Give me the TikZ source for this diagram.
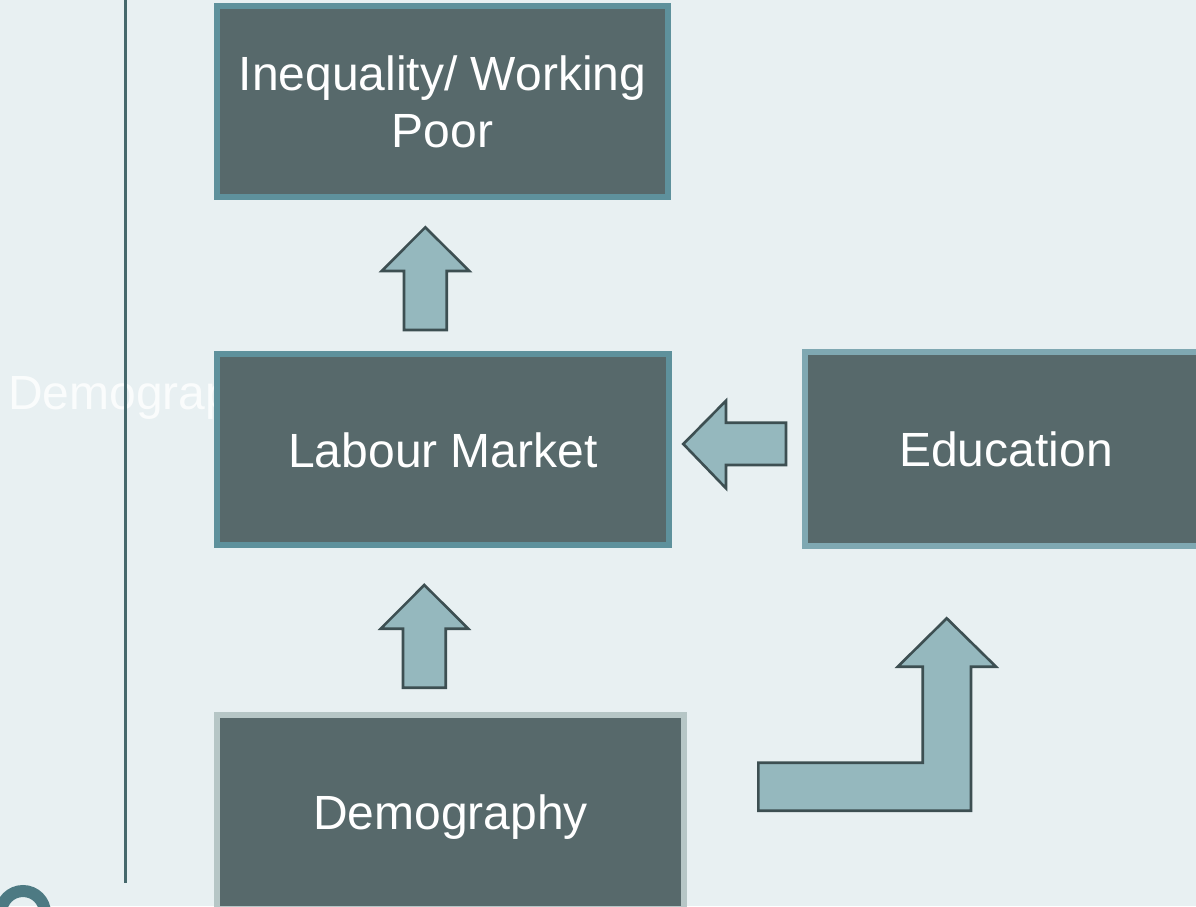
\documentclass[tikz,border=0pt]{standalone}
\usepackage{fontspec}
\setmainfont{Liberation Sans}
\definecolor{bgcol}{HTML}{E8F0F2}
\definecolor{boxfill}{HTML}{57696B}
\definecolor{tealedge}{HTML}{5E919C}
\definecolor{lightedge}{HTML}{7FA8B2}
\definecolor{greyedge}{HTML}{B6C6C6}
\definecolor{rulecol}{HTML}{45686C}
\definecolor{ringcol}{HTML}{4D7A83}
\definecolor{arrowfill}{HTML}{95B8BE}
\definecolor{arrowline}{HTML}{3D4F52}
\begin{document}
\begin{tikzpicture}[x=1pt,y=-1pt,
  box/.style={rectangle, fill=boxfill, line width=6pt, text=white,
    font=\fontsize{48}{57.3}\selectfont, align=center,
    inner sep=0pt, outer sep=0pt},
  oneline/.style={text height=35pt, text depth=0pt},
  blockarrow/.style={fill=arrowfill, draw=arrowline, line width=2.6pt,
    line join=miter},
]
% page area and background
\useasboundingbox (0,0) rectangle (1196,906);
\clip (0,0) rectangle (1196,906);
\fill[bgcol] (0,0) rectangle (1196,906);

% faded title behind the boxes
\node[anchor=base west, text=white, opacity=0.8, inner sep=0pt,
  font=\fontsize{48}{57.3}\selectfont] (ghost) at (8,409) {Demography};

% vertical rule on the left
\coordinate (ruletop) at (125.7,-5);
\coordinate (rulebot) at (125.7,883);
\draw[rulecol, line width=3.5pt] (ruletop) -- (rulebot);

% boxes
\node[box, draw=tealedge, minimum width=451pt, minimum height=191pt]
  (ineq) at (442.5,101.5) {Inequality/ Working\\Poor};
\node[box, oneline, draw=tealedge, minimum width=452pt, minimum height=191pt]
  (labour) at (443,449.5) {Labour Market};
\node[box, oneline, draw=lightedge, minimum width=402pt, minimum height=194pt]
  (edu) at (1006,449) {Education};
\node[box, oneline, draw=greyedge, minimum width=467pt, minimum height=194pt]
  (demo) at (450.5,812) {Demography};

% block arrows
\draw[blockarrow] (425.3,227.3) -- (469.3,271) -- (446.7,271) -- (446.7,330)
  -- (404,330) -- (404,271) -- (381.7,271) -- cycle;
\draw[blockarrow] (424.3,585) -- (468.3,628.7) -- (445.7,628.7) -- (445.7,687.7)
  -- (403,687.7) -- (403,628.7) -- (380.7,628.7) -- cycle;
\draw[blockarrow] (683.3,444) -- (726,400.7) -- (726,422.7) -- (786,422.7)
  -- (786,465) -- (726,465) -- (726,488.3) -- cycle;
\draw[blockarrow] (946.7,618.3) -- (996,666.7) -- (971,666.7) -- (971,810.7)
  -- (758.3,810.7) -- (758.3,762.7) -- (922.7,762.7) -- (922.7,666.7)
  -- (897.7,666.7) -- cycle;

% ring in the lower left corner
\draw[ringcol, line width=12pt] (23,913) circle[radius=22];
\end{tikzpicture}
\end{document}
